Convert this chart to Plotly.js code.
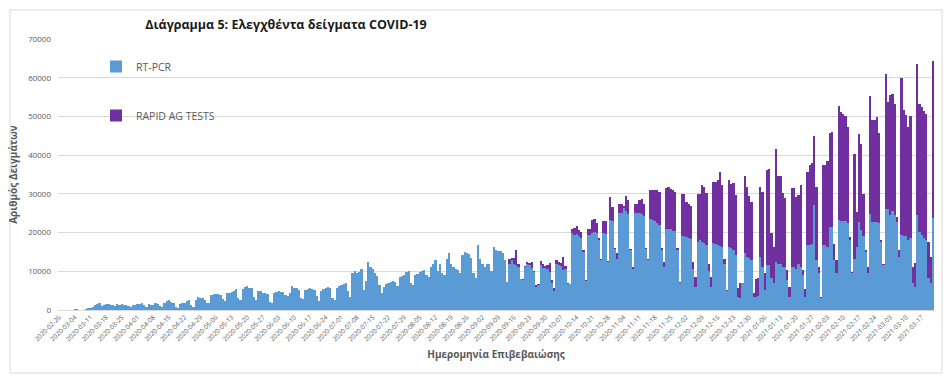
<!DOCTYPE html>
<html>
<head>
<meta charset="utf-8">
<script src="https://cdn.plot.ly/plotly-3.0.1.min.js"></script>
<style>
  html, body { margin: 0; padding: 0; background: #fff; }
  #chart { width: 949px; height: 379px; }
</style>
</head>
<body>
<div id="chart"></div>
<script>
// Daily series from 2020-02-26, one value per day (Wed..Tue per line)
const startDay = '2020-02-26';

const pcrValues = [
  60, 40, 80, 110, 30, 70, 120,
  150, 330, 120, 90, 70, 200, 400,
  600, 900, 1200, 1500, 1700, 1100, 1400,
  1600, 1500, 1400, 1300, 1000, 1500, 1400,
  1500, 1300, 1200, 1100, 800, 1300, 1200,
  1600, 1500, 1700, 1300, 900, 1500, 1400,
  1400, 1900, 1500, 1000, 900, 1800, 2200,
  2500, 2100, 1700, 800, 500, 1600, 1900,
  1900, 2200, 2600, 1300, 900, 2700, 3300,
  3200, 3000, 2500, 1900, 1800, 3800, 4100,
  4200, 4100, 4000, 2900, 2300, 4400, 4500,
  4700, 5000, 5500, 3200, 2600, 5400, 5900,
  6200, 5600, 5800, 3300, 2700, 5000, 4800,
  4500, 4300, 4200, 2000, 1900, 4300, 4700,
  4900, 4700, 4600, 3800, 3500, 4500, 6300,
  5800, 5700, 5200, 3000, 2900, 5100, 5500,
  5600, 5300, 5100, 3500, 2200, 5000, 5300,
  5700, 6000, 5800, 3200, 2600, 5600, 6100,
  6500, 6700, 6900, 5000, 3400, 9600, 10100,
  9500, 9700, 10600, 5200, 7500, 12300, 11200,
  10700, 9500, 8800, 6500, 4300, 6000, 6600,
  7000, 7300, 7600, 7200, 6200, 8400, 8800,
  9100, 9800, 10000, 7000, 6400, 9000, 9300,
  9900, 10100, 10300, 9000, 8600, 11200, 12000,
  12900, 10000, 12000, 9500, 9000, 13300, 14700,
  12000, 11000, 10700, 10300, 9500, 14200, 15000,
  14800, 14500, 13400, 9500, 8200, 16800, 13300,
  12000, 11000, 12000, 12000, 10000, 16300, 15500,
  15200, 15200, 14600, 13000, 7300, 12000, 12800,
  12000, 11600, 11000, 7900, 7800, 11200, 12000,
  11500, 10800, 9700, 6000, 6500, 11600, 10800,
  10800, 10500, 9800, 7000, 5000, 12000, 11500,
  11300, 10300, 10500, 6800, 6600, 19800, 19500,
  19600, 19200, 18700, 15000, 7500, 19400, 19400,
  20000, 20200, 19800, 18000, 12800, 19800, 19600,
  12500, 23200, 23000, 15700, 13300, 25000, 25000,
  26400, 25600, 24800, 15500, 10700, 25100, 25100,
  25000, 24800, 24200, 15700, 12900, 23500, 23300,
  23000, 22500, 22000, 15500, 11000, 21000, 21000,
  20800, 20500, 20500, 15500, 7000, 19000, 19000,
  18800, 18600, 18400, 10500, 6000, 17500, 18000,
  17600, 17300, 16800, 10000, 6000, 17200, 17000,
  16800, 16500, 16300, 12000, 5000, 16300, 16000,
  15500, 14200, 3400, 3200, 6900, 14600, 13800,
  13500, 13000, 3400, 3400, 3500, 13800, 11200,
  5200, 11600, 11600, 8200, 7000, 12500, 12000,
  11800, 11200, 11000, 7700, 3400, 11200, 11000,
  10500, 11900, 11200, 9000, 3400, 16800, 16800,
  17000, 27000, 12900, 9500, 3200, 16800, 16800,
  16300, 21500, 21500, 13000, 9500, 23200, 23000,
  23000, 23000, 22500, 18000, 9500, 13300, 16300,
  22800, 20600, 19000, 15000, 9500, 24900, 22800,
  22800, 22800, 22500, 17500, 11500, 26200, 26200,
  24500, 25500, 24500, 22800, 13800, 19400, 19000,
  19000, 18000, 18500, 6900, 6000, 24500, 20200,
  19500, 18500, 18000, 8200, 6900, 23700
];

const rapidValues = [
  0,0,0,0,0,0,0, 0,0,0,0,0,0,0, 0,0,0,0,0,0,0, 0,0,0,0,0,0,0,
  0,0,0,0,0,0,0, 0,0,0,0,0,0,0, 0,0,0,0,0,0,0, 0,0,0,0,0,0,0,
  0,0,0,0,0,0,0, 0,0,0,0,0,0,0, 0,0,0,0,0,0,0, 0,0,0,0,0,0,0,
  0,0,0,0,0,0,0, 0,0,0,0,0,0,0, 0,0,0,0,0,0,0, 0,0,0,0,0,0,0,
  0,0,0,0,0,0,0, 0,0,0,0,0,0,0, 0,0,0,0,0,0,0, 0,0,0,0,0,0,0,
  0,0,0,0,0,0,0, 0,0,0,0,0,0,0, 0,0,0,0,0,0,0, 0,0,0,0,0,0,0,
  0,0,0,0,0,0,0, 0,0,0,0,0,0,0, 0,0,0,0,0,0,0, 0,0,0,0,0,0,0,
  0, 0, 0, 0, 0, 1300, 700,
  1500, 3900, 1000, 0, 200, 200, 400,
  700, 1600, 300, 500, 300, 1100, 1200,
  500, 1200, 2300, 800, 700, 1000, 900,
  800, 3500, 900, 100, 100, 1200, 1800,
  2000, 1400, 1500, 500, 200, 1600, 1600,
  3200, 3400, 2600, 500, 500, 3200, 3400,
  200, 6000, 3500, 300, 1300, 2500, 2500,
  400, 3800, 3600, 200, 300, 2400, 2400,
  3500, 3800, 3300, 200, 200, 7500, 7700,
  8000, 8500, 8500, 600, 1500, 10500, 10800,
  10500, 10500, 10000, 500, 300, 11000, 11000,
  9000, 8800, 8500, 2000, 2500, 12500, 12000,
  14600, 14500, 13500, 2000, 2500, 15900, 16000,
  16700, 19200, 15900, 1300, 200, 17200, 16500,
  17200, 15500, 2200, 3800, 100, 19900, 18000,
  16000, 15000, 900, 4600, 4700, 18000, 19300,
  4300, 24500, 24900, 11600, 9300, 29200, 22600,
  22800, 18900, 18000, 2600, 2600, 20200, 20400,
  18700, 17800, 21100, 1300, 2000, 18900, 20600,
  21000, 18000, 18900, 1700, 200, 20600, 20600,
  22200, 24100, 24500, 4000, 3400, 29500, 28200,
  27600, 27000, 24800, 900, 400, 26900, 9100,
  22600, 22400, 11000, 500, 1700, 30300, 26200,
  26200, 27100, 23100, 500, 500, 34800, 27500,
  31000, 30400, 28800, 1200, 1700, 40400, 32600,
  31300, 29300, 31500, 4300, 6200, 39000, 33100,
  33000, 33000, 32700, 9400, 6900, 40600
];

const tickLabels = [
  '2020-02-26','2020-03-04','2020-03-11','2020-03-18','2020-03-25',
  '2020-04-01','2020-04-08','2020-04-15','2020-04-22','2020-04-29',
  '2020-05-06','2020-05-13','2020-05-20','2020-05-27',
  '2020-06-03','2020-06-10','2020-06-17','2020-06-24',
  '2020-07-01','2020-07-08','2020-07-15','2020-07-22','2020-07-29',
  '2020-08-05','2020-08-12','2020-08-19','2020-08-26',
  '2020-09-02','2020-09-09','2020-09-16','2020-09-23','2020-09-30',
  '2020-10-07','2020-10-14','2020-10-21','2020-10-28',
  '2020-11-04','2020-11-11','2020-11-18','2020-11-25',
  '2020-12-02','2020-12-09','2020-12-16','2020-12-23','2020-12-30',
  '2021-01-06','2021-01-13','2021-01-20','2021-01-27',
  '2021-02-03','2021-02-10','2021-02-17','2021-02-24',
  '2021-03-03','2021-03-10','2021-03-17'
];

// category labels: consecutive days starting at startDay
const [sy, sm, sd] = startDay.split('-').map(Number);
const days = pcrValues.map((_, i) =>
  new Date(Date.UTC(sy, sm - 1, sd + i)).toISOString().slice(0, 10));

const gray = '#595959';
const gridC = '#d9d9d9';

const traces = [
  {
    type: 'bar', name: 'RT-PCR', x: days, y: pcrValues,
    marker: { color: '#5B9BD5', line: { width: 0 } },
    legendgroup: 'a'
  },
  {
    type: 'bar', name: 'RAPID AG TESTS', x: days, y: rapidValues,
    marker: { color: '#7030A0', line: { width: 0 } },
    legendgroup: 'b'
  }
];

const layout = {
  width: 949, height: 379,
  margin: { l: 58, r: 15, t: 39, b: 69 },
  paper_bgcolor: '#ffffff', plot_bgcolor: '#ffffff',
  barmode: 'stack', bargap: 0,
  font: { family: 'Open Sans, Noto Sans, sans-serif', color: gray },
  title: {
    text: '<b>Διάγραμμα 5: Ελεγχθέντα δείγματα COVID-19</b>',
    x: 286 / 949, xanchor: 'center', y: 1 - 25 / 379, yanchor: 'middle',
    font: { family: 'Open Sans, sans-serif', size: 12.5, color: '#1a1a1a' }
  },
  xaxis: {
    type: 'category',
    tickmode: 'array', tickvals: tickLabels, ticktext: tickLabels,
    tickangle: -45, tickfont: { size: 6.5, color: gray },
    showgrid: false, showline: true, linecolor: gridC, linewidth: 1,
    ticks: '', fixedrange: true, automargin: false,
    title: { text: '<b>Ημερομηνία Επιβεβαιώσης</b>', font: { size: 10, color: gray }, standoff: 8 }
  },
  yaxis: {
    range: [0, 70000], tickmode: 'linear', tick0: 0, dtick: 10000,
    tickformat: 'd', exponentformat: 'none', separatethousands: false,
    tickfont: { size: 8, color: gray }, ticklabelstandoff: 6,
    showgrid: true, gridcolor: gridC, gridwidth: 1,
    zeroline: false, showline: false, ticks: '', fixedrange: true, automargin: false,
    title: { text: '<b>Αριθμός Δειγμάτων</b>', font: { size: 10, color: gray }, standoff: 8 }
  },
  showlegend: true,
  legend: {
    x: (96 - 58) / 876, xanchor: 'left',
    y: (310 - 52) / 271, yanchor: 'top',
    bgcolor: 'rgba(0,0,0,0)', borderwidth: 0,
    font: { size: 10.5, color: gray },
    traceorder: 'grouped', tracegroupgap: 30
  },
  shapes: [{
    type: 'rect', xref: 'paper', yref: 'paper', layer: 'below',
    x0: (10 - 58) / 876, x1: (942 - 58) / 876,
    y0: (310 - 373) / 271, y1: (310 - 10) / 271,
    line: { color: gridC, width: 1 }, fillcolor: 'rgba(0,0,0,0)'
  }]
};

Plotly.newPlot('chart', traces, layout, { staticPlot: true, displayModeBar: false });
</script>
</body>
</html>
